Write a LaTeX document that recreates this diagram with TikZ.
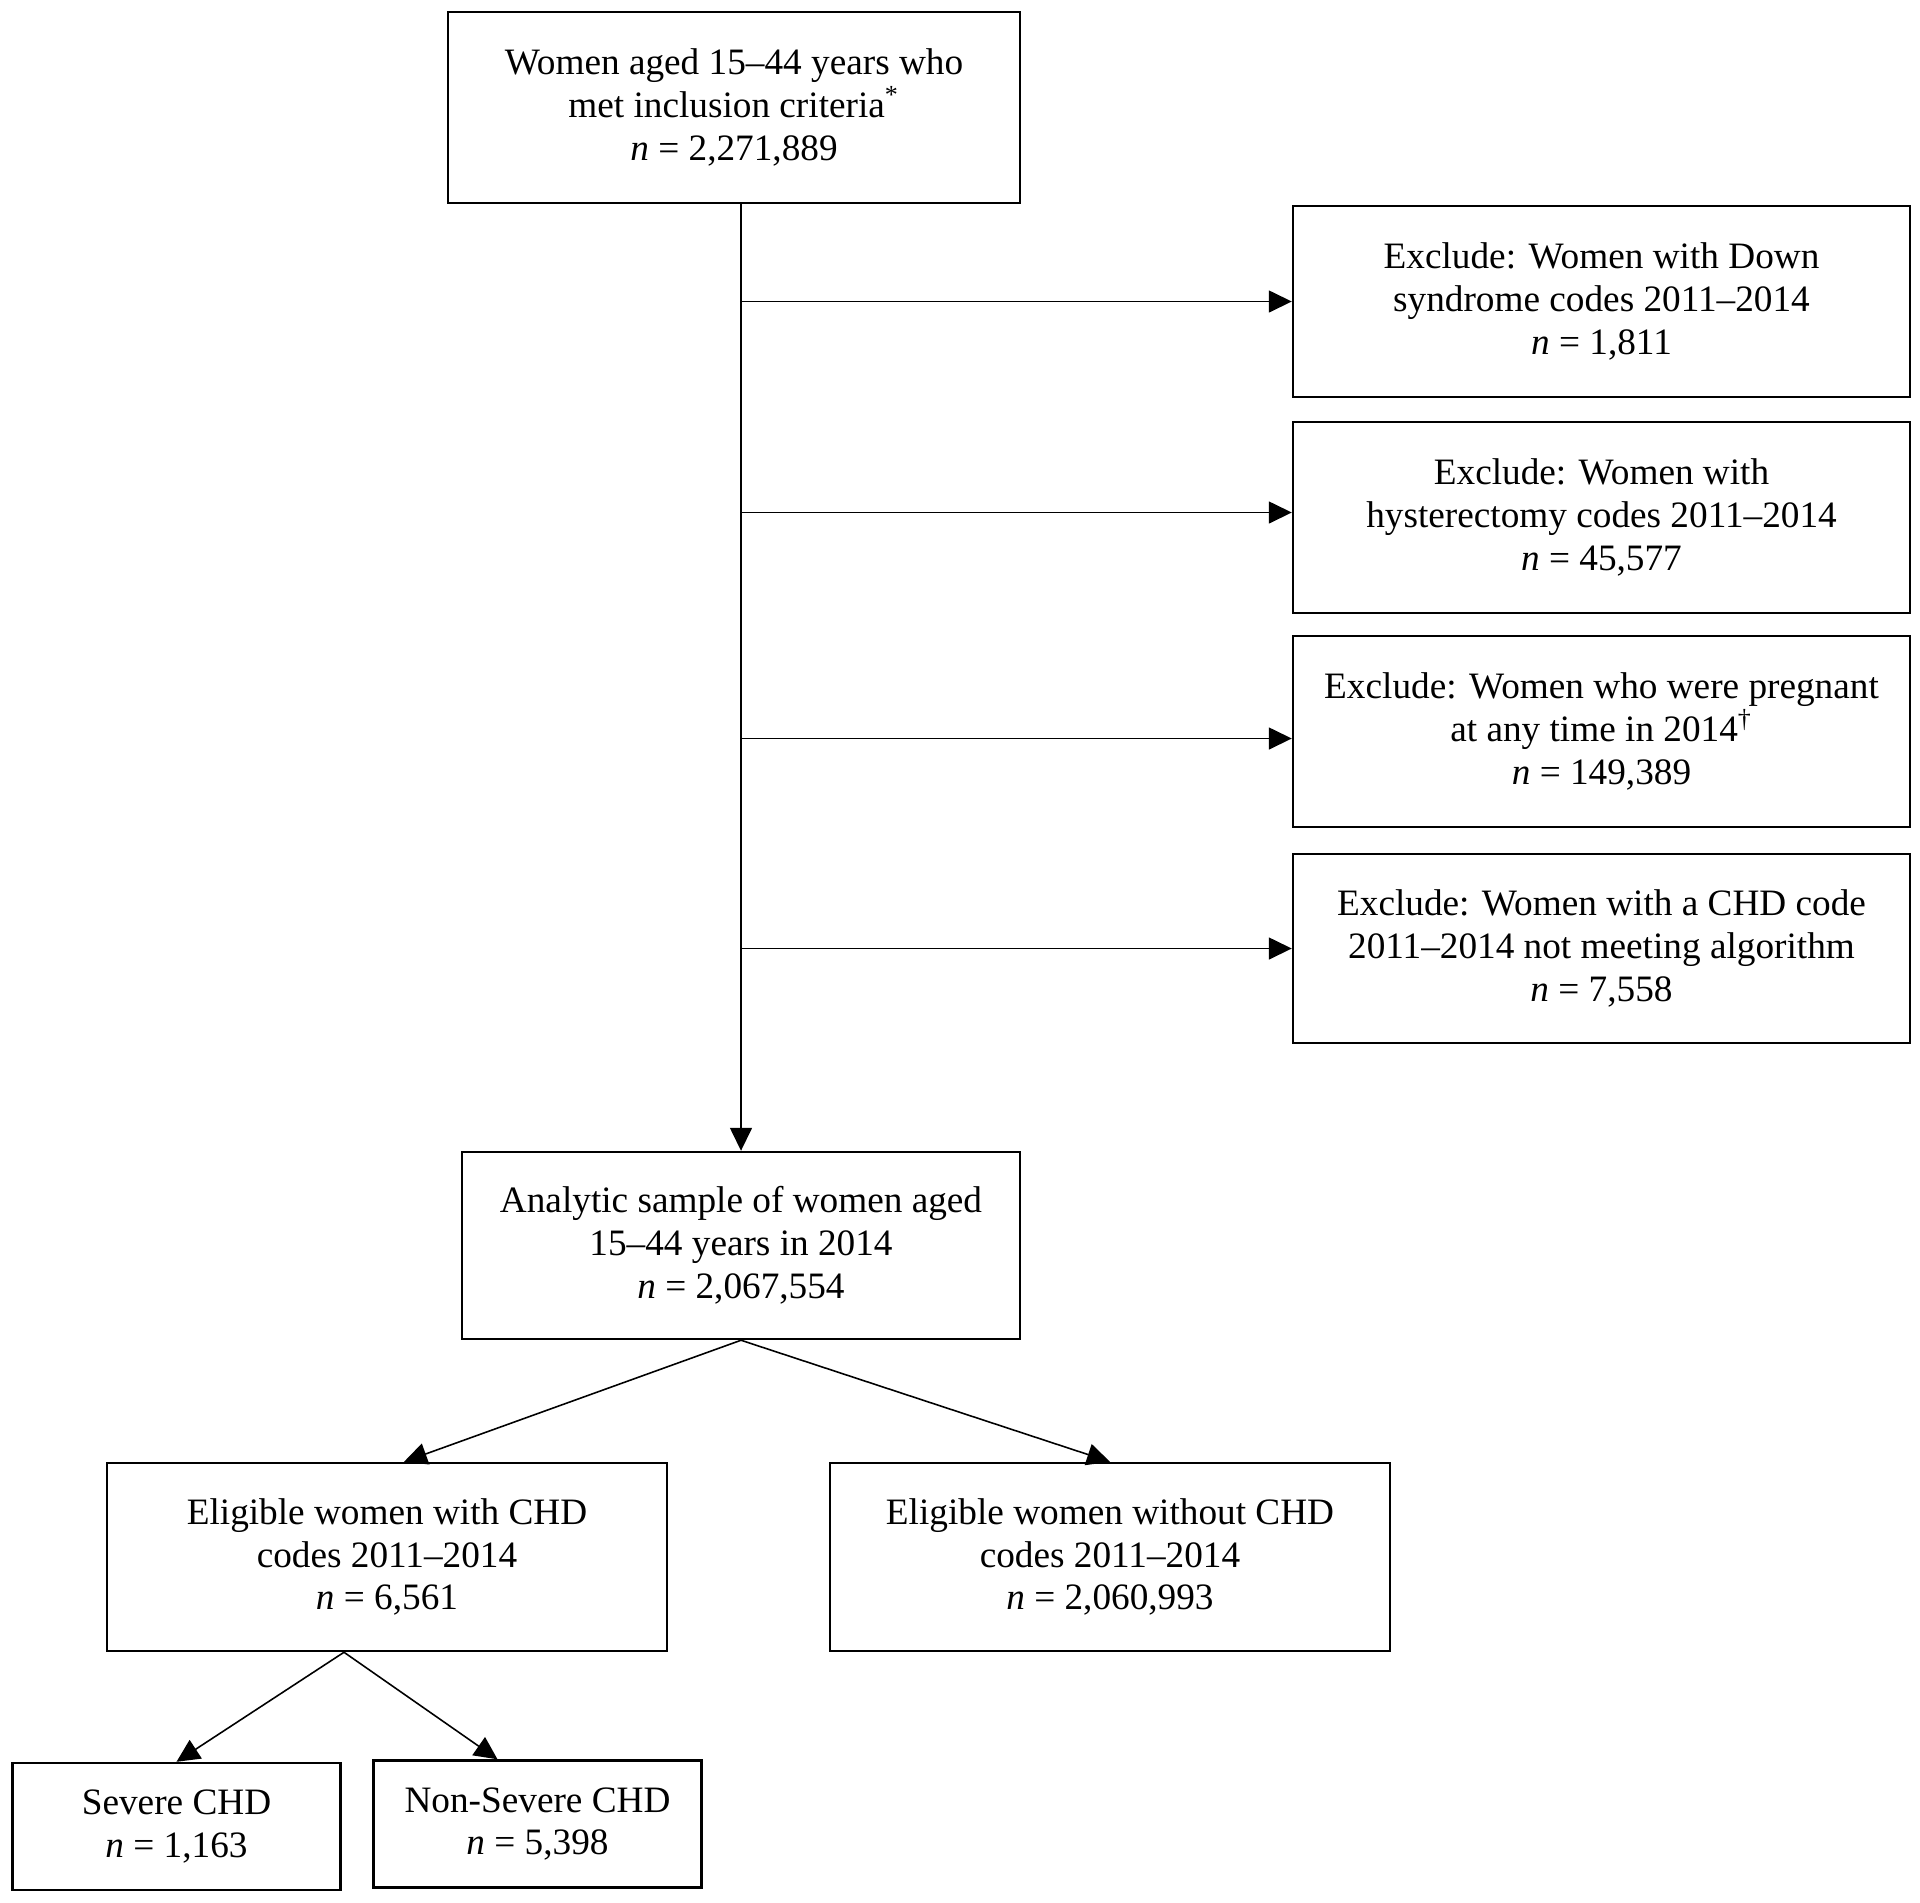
\documentclass[tikz,border=0pt]{standalone}
\usepackage{fontspec}
\setmainfont{Liberation Serif}
\usetikzlibrary{arrows.meta,calc}

\begin{document}
\begin{tikzpicture}[
  x=1cm,y=1cm,
  font=\fontsize{10.6}{12.2}\selectfont,
  box/.style={draw, line width=0.7pt, align=center, inner sep=2pt},
  exbox/.style={box, minimum width=6.17cm, minimum height=1.91cm},
  midbox/.style={box, minimum width=5.6cm, minimum height=1.88cm},
  endbox/.style={box, minimum width=3.28cm, minimum height=1.27cm},
  arr/.style={-{Triangle[length=2.3mm,width=2.2mm]}, line width=0.45pt}
]
\useasboundingbox (0,0) rectangle (19.2,-19.02);
\node[box, minimum width=5.72cm, minimum height=1.91cm] (incl) at (7.34,-1.075) {Women aged 15--44 years who\\met inclusion criteria\textsuperscript{*}\\\textit{n} = 2,271,889};
\node[exbox] (down) at (16.015,-3.015) {Exclude: Women with Down\\syndrome codes 2011--2014\\\textit{n} = 1,811};
\node[exbox] (hyst) at (16.015,-5.175) {Exclude: Women with\\hysterectomy codes 2011--2014\\\textit{n} = 45,577};
\node[exbox] (preg) at (16.015,-7.315) {Exclude: Women who were pregnant\\at any time in 2014\textsuperscript{\dag}\\\textit{n} = 149,389};
\node[exbox, minimum height=1.89cm] (badchd) at (16.015,-9.485) {Exclude: Women with a CHD code\\2011--2014 not meeting algorithm\\\textit{n} = 7,558};
\node[box, minimum width=5.58cm, minimum height=1.87cm] (sample) at (7.41,-12.455) {Analytic sample of women aged\\15--44 years in 2014\\\textit{n} = 2,067,554};
\node[midbox] (chdyes) at (3.87,-15.57) {Eligible women with CHD\\codes 2011--2014\\\textit{n} = 6,561};
\node[midbox] (chdno) at (11.10,-15.57) {Eligible women without CHD\\codes 2011--2014\\\textit{n} = 2,060,993};
\node[endbox] (severe) at (1.765,-18.265) {Severe CHD\\\textit{n} = 1,163};
\node[endbox] (nonsev) at (5.375,-18.24) {Non-Severe CHD\\\textit{n} = 5,398};
% exclusions off the trunk
\draw[arr] (sample.north |- incl.south) -- (sample.north);
\draw[arr] (sample.north |- down.west) -- (down.west);
\draw[arr] ([yshift=0.05cm]sample.north |- hyst.west) -- ([yshift=0.05cm]hyst.west);
\draw[arr] ([yshift=-0.07cm]sample.north |- preg.west) -- ([yshift=-0.07cm]preg.west);
\draw[arr] (sample.north |- badchd.west) -- (badchd.west);
% splits
\draw[arr] (sample.south) -- ([xshift=0.17cm]chdyes.north);
\draw[arr] (sample.south) -- (chdno.north);
\draw[arr] ([xshift=-0.43cm]chdyes.south) -- (severe.north);
\draw[arr] ([xshift=-0.43cm]chdyes.south) -- ([xshift=-0.4cm]nonsev.north);
\end{tikzpicture}
\end{document}
